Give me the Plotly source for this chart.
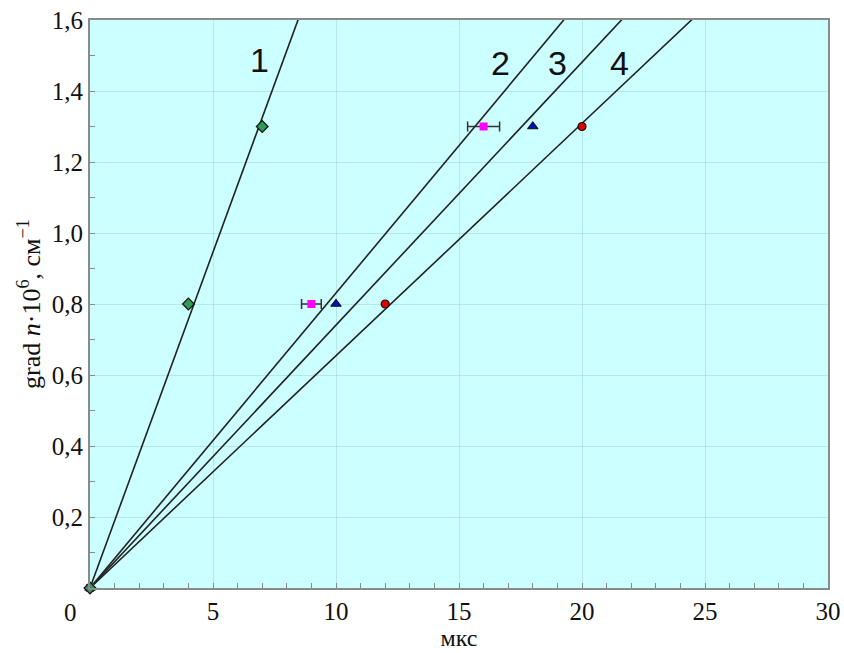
import numpy as np
import plotly.graph_objects as go

# Data
t1 = [0, 4, 7]
g1 = [0, 0.8, 1.3]
t2 = [0, 9, 16]
g2 = [0, 0.8, 1.3]
err2 = [0, 0.4, 0.65]
t3 = [0, 10, 18]
g3 = [0, 0.8, 1.3]
t4 = [0, 12, 20]
g4 = [0, 0.8, 1.3]
curve_labels = ["1", "2", "3", "4"]
x_ticks = [5, 10, 15, 20, 25, 30]
y_ticks = [0.2, 0.4, 0.6, 0.8, 1.0, 1.2, 1.4, 1.6]
y_ticktext = ["0,2", "0,4", "0,6", "0,8", "1,0", "1,2", "1,4", "1,6"]

series = [
    (t4, g4, None, dict(symbol="circle", color="#e00000", size=8, line=dict(color="#111", width=1.2))),
    (t3, g3, None, dict(symbol="triangle-up", color="#0010c8", size=9, line=dict(color="#111", width=1.2))),
    (t2, g2, err2, dict(symbol="square", color="#ff00ff", size=8, line=dict(color="#ff00ff", width=0))),
    (t1, g1, None, dict(symbol="diamond", color="#2e9a5a", size=9, line=dict(color="#111", width=1.2))),
]

fig = go.Figure()

# fitted lines through origin (least squares)
for t, g, e, m in series:
    ta = np.array(t, float)
    ga = np.array(g, float)
    k = (ta * ga).sum() / (ta * ta).sum()
    xe = 1.7 / k
    fig.add_trace(go.Scatter(x=[0, xe], y=[0, k * xe], mode="lines",
                             line=dict(color="#222222", width=1.6),
                             showlegend=False, hoverinfo="skip"))

for t, g, e, m in series:
    kw = {}
    if e is not None:
        kw["error_x"] = dict(type="data", array=e, visible=True,
                             color="#333333", thickness=1.5, width=5)
    fig.add_trace(go.Scatter(x=t, y=g, mode="markers", marker=m,
                             showlegend=False, cliponaxis=False, **kw))

lab_pos = [(6.91, 1.487), (16.67, 1.48), (19.02, 1.48), (21.54, 1.48)]
for lab, (lx, ly) in zip(curve_labels, lab_pos):
    fig.add_annotation(x=lx, y=ly, text=lab, showarrow=False,
                       font=dict(family="Liberation Sans, Arial", size=34, color="#111"))

fig.add_annotation(x=0, y=0, xref="x", yref="y", text="0", showarrow=False,
                   xshift=-20, yshift=-24,
                   font=dict(family="Liberation Serif, Times New Roman", size=25, color="#111"))

axis_common = dict(showline=True, linecolor="#8a8a8a", linewidth=2, mirror=True,
                   showgrid=True, gridcolor="rgba(120,140,140,0.22)", gridwidth=1,
                   zeroline=False, ticks="inside", ticklen=5, tickcolor="#8a8a8a",
                   automargin=False,
                   tickfont=dict(family="Liberation Serif, Times New Roman", size=25, color="#111"))

fig.update_xaxes(range=[0, 30], tickvals=x_ticks, ticktext=[str(v) for v in x_ticks],
                 minor=dict(dtick=1, ticks="inside", ticklen=5, tickcolor="#8a8a8a", showgrid=False),
                 title=dict(text="мкс", standoff=4,
                            font=dict(family="Liberation Serif, Times New Roman", size=24, color="#111")),
                 **axis_common)
fig.update_yaxes(range=[0, 1.6], tickvals=y_ticks, ticktext=y_ticktext,
                 minor=dict(dtick=0.1, ticks="inside", ticklen=5, tickcolor="#8a8a8a", showgrid=False),
                 title=dict(text="grad <i>n</i>·10<sup>6</sup>, см<sup>−1</sup>", standoff=4,
                            font=dict(family="Liberation Serif, Times New Roman", size=26, color="#111")),
                 **axis_common)

fig.update_layout(width=844, height=653, plot_bgcolor="#ccffff", paper_bgcolor="white",
                  margin=dict(l=90, r=16, t=20, b=65), showlegend=False)

fig.write_html("out.html")
